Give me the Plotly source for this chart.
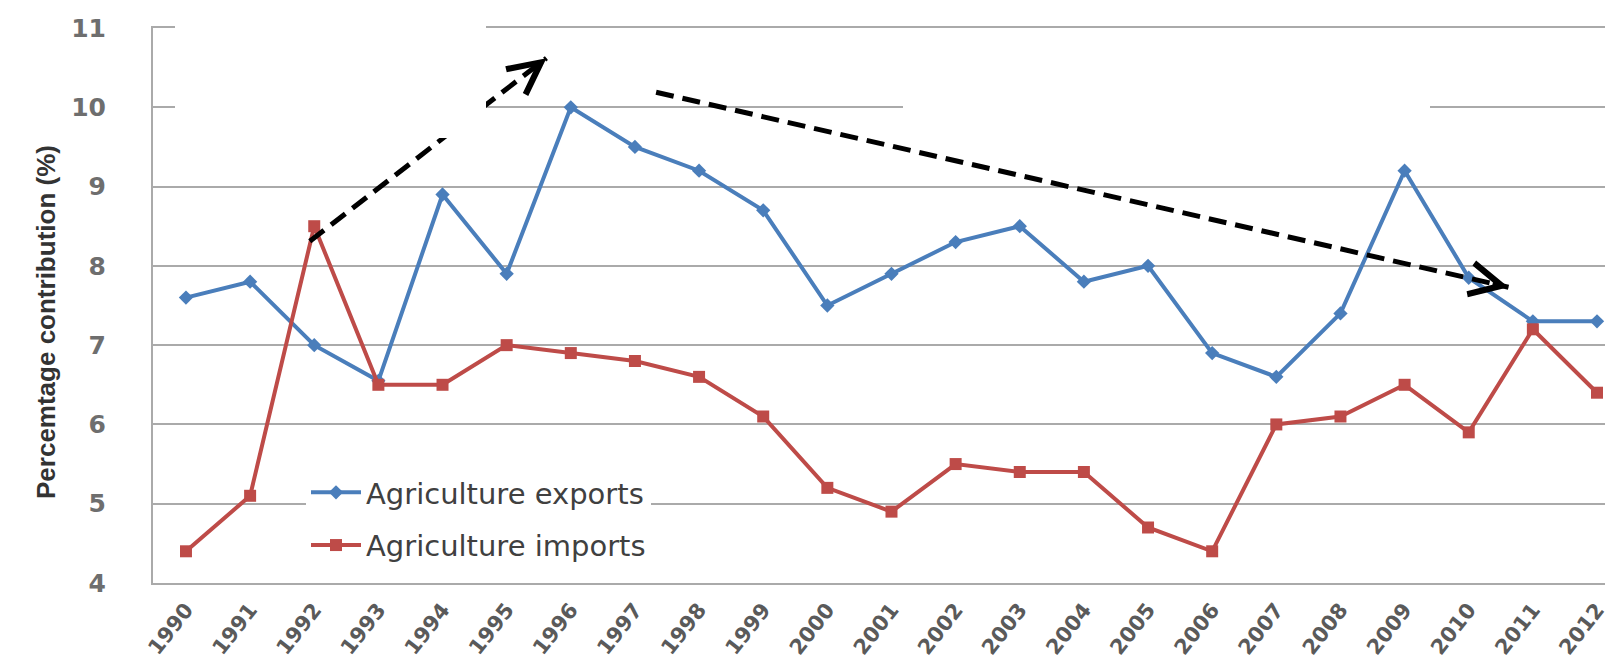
import plotly.graph_objects as go

years = list(range(1990, 2013))
exports = [7.6, 7.8, 7.0, 6.55, 8.9, 7.9, 10.0, 9.5, 9.2, 8.7, 7.5, 7.9, 8.3, 8.5,
           7.8, 8.0, 6.9, 6.6, 7.4, 9.2, 7.85, 7.3, 7.3]
imports = [4.4, 5.1, 8.5, 6.5, 6.5, 7.0, 6.9, 6.8, 6.6, 6.1, 5.2, 4.9, 5.5, 5.4,
           5.4, 4.7, 4.4, 6.0, 6.1, 6.5, 5.9, 7.2, 6.4]
tick_labels = [str(y) for y in years]
y_ticks = [4, 5, 6, 7, 8, 9, 10, 11]

# trend arrows (start x, start y, tip x, tip y) in data units
arrows = [
    (1991.93, 8.31, 1995.62, 10.62),
    (1997.33, 10.19, 2010.62, 7.73),
]

BLUE = "#4A7EBB"
RED = "#BE4B48"
GRID = "#aaaaaa"

fig = go.Figure()
fig.add_trace(go.Scatter(
    x=years, y=exports, name="Agriculture exports", mode="lines+markers",
    line=dict(color=BLUE, width=4),
    marker=dict(symbol="diamond", size=11, color=BLUE),
    legendgroup="a",
))
fig.add_trace(go.Scatter(
    x=years, y=imports, name="Agriculture imports", mode="lines+markers",
    line=dict(color=RED, width=4),
    marker=dict(symbol="square", size=12, color=RED),
    legendgroup="b",
))

L0 = 145
W = 1613 - L0
T0 = 20
H = 575 - T0

shapes = []
annotations = []

# patch that hides a gridline segment (between grid and traces)
shapes.append(dict(type="rect", xref="paper", yref="paper",
                   x0=(480 - L0) / W, x1=(556 - L0) / W,
                   y0=(575 - 106) / H, y1=(575 - 92) / H,
                   fillcolor="white", line=dict(width=0), layer="between"))

for (x0, y0, x1, y1) in arrows:
    shapes.append(dict(type="line", x0=x0, y0=y0, x1=x1, y1=y1,
                       xref="x", yref="y",
                       line=dict(color="black", width=5, dash="18px,9px"),
                       layer="above"))

# white patches present in the original picture
shapes.append(dict(type="rect", xref="paper", yref="paper",
                   x0=(167 - L0) / W, x1=(478 - L0) / W,
                   y0=(575 - 130) / H, y1=(575 - 17) / H,
                   fillcolor="white", line=dict(width=0), layer="above"))
shapes.append(dict(type="rect", xref="paper", yref="paper",
                   x0=(895 - L0) / W, x1=(1422 - L0) / W,
                   y0=(575 - 112) / H, y1=(575 - 24) / H,
                   fillcolor="white", line=dict(width=0), layer="above"))

# arrow heads
px_per_x = W / (2012.374 - 1989.486)
px_per_y = H / 7.0
for (x0, y0, x1, y1) in arrows:
    dx = (x1 - x0) * px_per_x
    dy = -(y1 - y0) * px_per_y
    n = (dx ** 2 + dy ** 2) ** 0.5
    Lh = 16
    annotations.append(dict(
        x=x1, y=y1, xref="x", yref="y", text="", showarrow=True,
        ax=-dx / n * Lh, ay=-dy / n * Lh, arrowhead=5, arrowsize=1.25,
        arrowwidth=5, arrowcolor="black"))

annotations.append(dict(
    text="Percemtage contribution (%)", textangle=-90,
    xref="paper", yref="paper", x=(38 - L0) / W, y=(575 - 314) / H,
    showarrow=False, xanchor="center", yanchor="middle",
    font=dict(family="Liberation Sans", size=26, color="#333333", weight="bold")))

fig.update_layout(
    width=1613, height=661,
    margin=dict(l=L0, r=0, t=T0, b=661 - 575),
    paper_bgcolor="white", plot_bgcolor="white",
    showlegend=True,
    legend=dict(
        x=(298 - L0) / W, y=(575 - 459) / H, xanchor="left", yanchor="top",
        bgcolor="white", borderwidth=0,
        font=dict(family="DejaVu Sans", size=29, color="#404040"),
        traceorder="grouped", tracegroupgap=12, itemwidth=50,
    ),
    xaxis=dict(
        type="linear", range=[1989.486, 2012.374],
        tickmode="array", tickvals=years, ticktext=tick_labels,
        tickangle=-52, showgrid=False, zeroline=False,
        showline=True, linecolor=GRID, linewidth=2, mirror=True,
        ticks="", ticklabelstandoff=4,
        tickfont=dict(family="DejaVu Sans", size=21, color="#5a5a5a", weight="bold"),
    ),
    yaxis=dict(
        range=[4, 11], tickmode="array", tickvals=y_ticks,
        showgrid=True, gridcolor=GRID, gridwidth=2, zeroline=False,
        showline=True, linecolor=GRID, linewidth=2,
        ticks="", ticklabelstandoff=40,
        tickfont=dict(family="DejaVu Sans", size=25, color="#6e6e6e", weight="bold"),
    ),
    shapes=shapes,
    annotations=annotations,
)

fig.write_html("out.html")
